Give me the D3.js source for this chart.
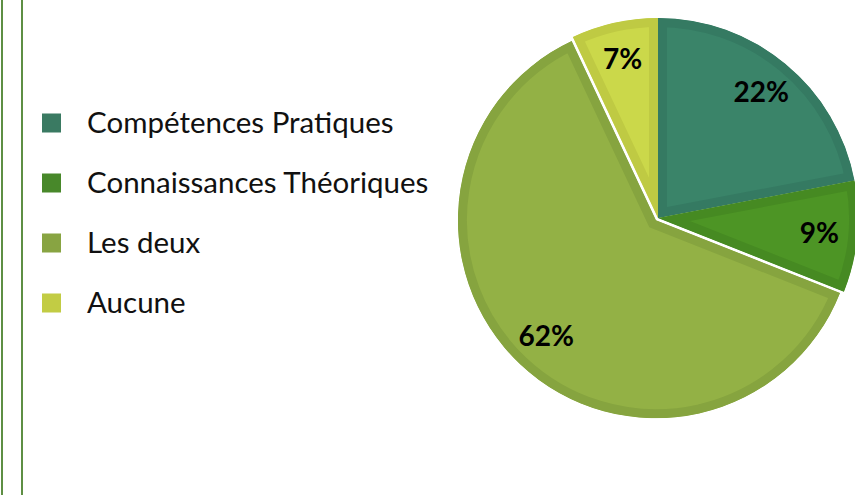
<!DOCTYPE html>
<html>
<head>
<meta charset="utf-8">
<script src="https://cdn.jsdelivr.net/npm/d3@7"></script>
<style>
  body { margin: 0; background: #fff; }
  svg { display: block; }
</style>
</head>
<body>
<svg id="canvas" width="855" height="495"></svg>
<script>
const categories = ["Compétences Pratiques", "Connaissances Théoriques", "Les deux", "Aucune"];
const values = [22, 9, 62, 7];
const fills = ["#3a8469", "#4d9525", "#93b145", "#cbd84a"];
const bands = ["#357a62", "#468a22", "#86a43f", "#bfca43"];
const legendColors = ["#3a7a62", "#48882a", "#88a442", "#c2cc44"];
const exploded = [0, 0, 3, 0];

const svg = d3.select("#canvas");
const defs = svg.append("defs");

// left frame lines
svg.append("line").attr("x1", 2).attr("x2", 2).attr("y1", 0).attr("y2", 495)
  .attr("stroke", "#5e8f44").attr("stroke-width", 2);
svg.append("line").attr("x1", 22).attr("x2", 22).attr("y1", 0).attr("y2", 495)
  .attr("stroke", "#5e8f44").attr("stroke-width", 2);

const cx = 658, cy = 218, radius = 200;

const pie = d3.pie().sort(null).value((d) => d);
const arcs = pie(values);

const slices = svg.append("g").attr("transform", `translate(${cx}, ${cy})`);

arcs.forEach((d, i) => {
  const r = exploded[i] ? radius - 2 : radius;
  const arc = d3.arc().innerRadius(0).outerRadius(r);
  const mid = (d.startAngle + d.endAngle) / 2;
  const dx = Math.sin(mid) * exploded[i];
  const dy = -Math.cos(mid) * exploded[i];

  defs.append("clipPath").attr("id", "clip" + i)
    .append("path").attr("d", arc(d));

  const g = slices.append("g").attr("transform", `translate(${dx}, ${dy})`);
  g.append("path")
    .attr("d", arc(d))
    .attr("fill", fills[i])
    .attr("stroke", bands[i])
    .attr("stroke-width", 18)
    .attr("stroke-linejoin", "miter")
    .attr("clip-path", `url(#clip${i})`);

  const labelArc = d3.arc().innerRadius(r * 0.81).outerRadius(r * 0.81);
  const [lx, ly] = labelArc.centroid(d);
  g.append("text")
    .attr("x", lx)
    .attr("y", ly)
    .attr("dy", "0.33em")
    .attr("text-anchor", "middle")
    .attr("font-family", "Lato, 'Open Sans', sans-serif")
    .attr("font-weight", "bold")
    .attr("font-size", 28)
    .attr("fill", "#000")
    .text(d.value + "%");
});

// legend
const legendY = d3.scalePoint().domain(categories).range([123, 303]);

const legend = svg.append("g")
  .selectAll("g")
  .data(categories)
  .enter()
  .append("g")
  .attr("transform", (d) => `translate(42, ${legendY(d)})`);

legend.append("rect")
  .attr("x", 0)
  .attr("y", -9.5)
  .attr("width", 19)
  .attr("height", 19)
  .attr("fill", (d, i) => legendColors[i]);

legend.append("text")
  .attr("x", 45)
  .attr("y", 0)
  .attr("dy", "0.35em")
  .attr("font-family", "Lato, 'Open Sans', sans-serif")
  .attr("font-size", 29.5)
  .attr("fill", "#111")
  .text((d) => d);
</script>
</body>
</html>
